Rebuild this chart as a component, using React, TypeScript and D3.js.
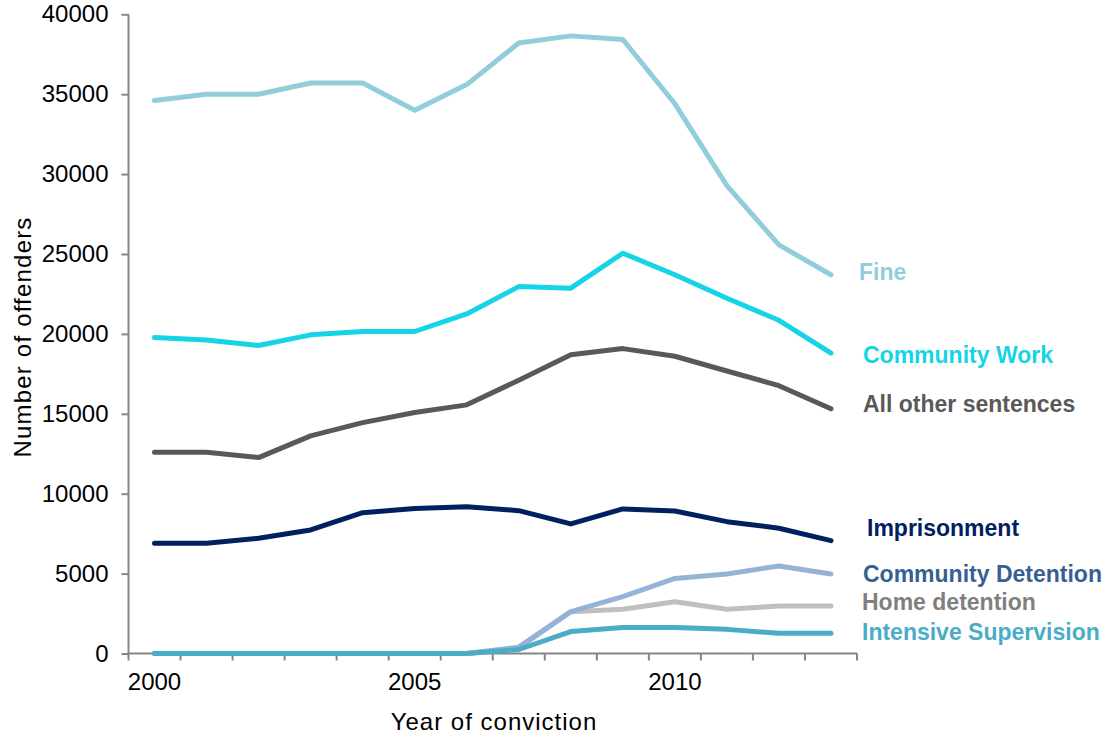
import React, { useRef, useEffect } from "react";
import * as d3 from "d3";

const years = [2000, 2001, 2002, 2003, 2004, 2005, 2006, 2007, 2008, 2009, 2010, 2011, 2012, 2013];
const yTicks = [0, 5000, 10000, 15000, 20000, 25000, 30000, 35000, 40000];
const xLabelYears = [2000, 2005, 2010];

const fine = [34600, 35000, 35000, 35700, 35700, 34000, 35600, 38200, 38650, 38420, 34400, 29280, 25570, 23700];
const communityWork = [19770, 19620, 19270, 19940, 20150, 20150, 21250, 22960, 22860, 25050, 23700, 22230, 20850, 18790];
const allOther = [12600, 12600, 12260, 13620, 14450, 15080, 15560, 17100, 18690, 19080, 18600, 17680, 16760, 15320];
const imprisonment = [6900, 6900, 7210, 7730, 8810, 9070, 9190, 8940, 8110, 9050, 8920, 8250, 7840, 7060];
const homeDetention = [0, 0, 0, 0, 0, 0, 0, 350, 2620, 2770, 3240, 2770, 2970, 2970];
const communityDetention = [0, 0, 0, 0, 0, 0, 0, 400, 2620, 3560, 4700, 4980, 5480, 4980];
const intensiveSupervision = [0, 0, 0, 0, 0, 0, 0, 250, 1370, 1620, 1620, 1510, 1260, 1260];

const seriesNames = ["Fine", "Community Work", "All other sentences", "Imprisonment", "Home detention", "Community Detention", "Intensive Supervision"];
const seriesValues = [fine, communityWork, allOther, imprisonment, homeDetention, communityDetention, intensiveSupervision];
const lineColors = ["#92CDDC", "#17D3E6", "#595959", "#002060", "#BFBFBF", "#95B3D7", "#4BACC6"];
const labelColors = ["#92CDDC", "#17D3E6", "#595959", "#002060", "#7F7F7F", "#376092", "#4BACC6"];
// hand-placed label anchors (x, baseline)
const labelPos = [[859, 280], [863, 363], [863, 412], [867, 536], [862, 610], [863, 582], [862, 640]];

const FONT = "'Liberation Sans', Arial, sans-serif";

const App = () => {
  const ref = useRef<SVGSVGElement>(null);

  useEffect(() => {
    if (!ref.current) return;
    const svg = d3.select(ref.current);
    svg.selectAll("*").remove();

    const left = 128.5, right = 857, top = 14.3, bottom = 653.5;

    const x = d3.scaleBand<number>().domain(years).range([left, right]).padding(0);
    const y = d3.scaleLinear().domain([0, 40000]).range([bottom, top]);
    const cx = (yr: number) => (x(yr) || 0) + x.bandwidth() / 2;

    // y axis
    const ya = svg.append("g")
      .attr("transform", `translate(${left},0)`)
      .call(d3.axisLeft(y).tickValues(yTicks).tickSize(7).tickPadding(13).tickFormat(d3.format("d")));
    ya.select(".domain").attr("stroke", "#868686").attr("stroke-width", 2).attr("d", `M0,${top}V${bottom}`);
    ya.selectAll(".tick line").attr("stroke", "#868686").attr("stroke-width", 2);
    ya.selectAll(".tick text").attr("font-family", FONT).attr("font-size", 24).attr("fill", "#000");

    // x axis
    const xa = svg.append("g")
      .attr("transform", `translate(0,${bottom})`)
      .call(d3.axisBottom(x).tickSize(0).tickPadding(19)
        .tickFormat((d) => (xLabelYears.includes(d as number) ? String(d) : "")));
    xa.select(".domain").attr("stroke", "#868686").attr("stroke-width", 2).attr("d", `M${left},0H${right}`);
    xa.selectAll(".tick text").attr("font-family", FONT).attr("font-size", 24).attr("fill", "#000");
    const bounds = years.map((yr) => x(yr) || 0).concat([right]);
    xa.selectAll(".bound")
      .data(bounds)
      .join("line")
      .attr("class", "bound")
      .attr("x1", (d) => d).attr("x2", (d) => d)
      .attr("y1", 0).attr("y2", 7)
      .attr("stroke", "#868686").attr("stroke-width", 2);

    // lines
    const line = d3.line<number>()
      .x((_, i) => cx(years[i]))
      .y((d) => y(d));

    svg.append("g")
      .selectAll("path")
      .data(seriesValues)
      .join("path")
      .attr("d", (d) => line(d))
      .attr("fill", "none")
      .attr("stroke", (_, i) => lineColors[i])
      .attr("stroke-width", 5)
      .attr("stroke-linejoin", "round")
      .attr("stroke-linecap", "round");

    // series labels
    svg.append("g")
      .selectAll("text")
      .data(seriesNames)
      .join("text")
      .attr("x", (_, i) => labelPos[i][0])
      .attr("y", (_, i) => labelPos[i][1])
      .attr("font-family", FONT)
      .attr("font-size", 23)
      .attr("font-weight", "bold")
      .attr("fill", (_, i) => labelColors[i])
      .text((d) => d);

    // axis titles
    svg.append("text")
      .attr("transform", `translate(31,337) rotate(-90)`)
      .attr("text-anchor", "middle")
      .attr("font-family", FONT)
      .attr("font-size", 24)
      .attr("letter-spacing", 1.2)
      .text("Number of offenders");

    svg.append("text")
      .attr("x", 494)
      .attr("y", 730)
      .attr("text-anchor", "middle")
      .attr("font-family", FONT)
      .attr("font-size", 24)
      .attr("letter-spacing", 1)
      .text("Year of conviction");
  }, []);

  return (
    <svg
      ref={ref}
      width={1115}
      height={737}
      style={{ position: "absolute", left: 0, top: 0, background: "#fff" }}
    />
  );
};

export default App;
